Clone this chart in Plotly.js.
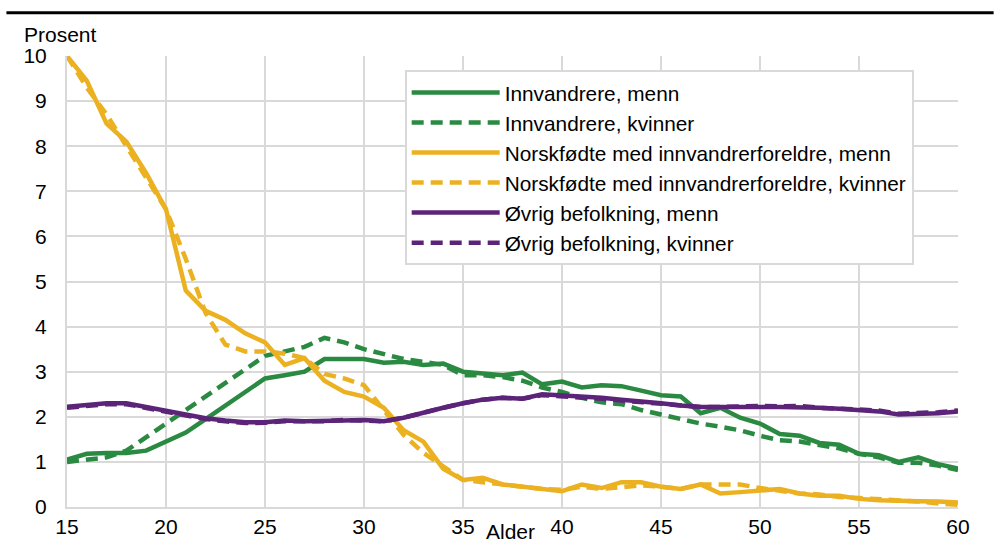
<!DOCTYPE html>
<html>
<head>
<meta charset="utf-8">
<script src="https://cdn.plot.ly/plotly-3.0.1.min.js"></script>
<style>html,body{margin:0;padding:0;background:#fff;}#chart{width:995px;height:543px;}</style>
</head>
<body>
<div id="chart"></div>
<script>
const ages = [];
for (let a = 15; a <= 60; a++) ages.push(a);

const innvMenn = [1.05,1.18,1.2,1.2,1.25,1.45,1.65,1.95,2.25,2.55,2.85,2.92,3.0,3.28,3.27,3.28,3.2,3.22,3.15,3.18,3.0,2.97,2.92,2.98,2.72,2.78,2.65,2.7,2.68,2.58,2.48,2.45,2.08,2.2,1.98,1.85,1.62,1.58,1.42,1.38,1.18,1.15,1.0,1.1,0.95,0.85];
const innvKvinner = [1.0,1.05,1.1,1.25,1.55,1.85,2.15,2.45,2.75,3.05,3.35,3.45,3.55,3.75,3.65,3.5,3.38,3.28,3.22,3.15,2.92,2.92,2.88,2.8,2.65,2.55,2.42,2.32,2.28,2.15,2.05,1.95,1.85,1.78,1.7,1.58,1.48,1.45,1.38,1.3,1.18,1.1,0.98,0.98,0.92,0.82];
const norskMenn = [10.0,9.45,8.5,8.1,7.4,6.6,4.8,4.35,4.15,3.85,3.65,3.15,3.3,2.8,2.55,2.45,2.2,1.7,1.45,0.85,0.6,0.65,0.5,0.45,0.4,0.35,0.5,0.42,0.55,0.55,0.45,0.4,0.5,0.3,0.33,0.37,0.4,0.3,0.25,0.25,0.18,0.15,0.15,0.13,0.12,0.1];
const norskKvinner = [10.0,9.3,8.7,8.0,7.3,6.6,5.5,4.3,3.6,3.45,3.45,3.4,3.3,2.95,2.85,2.7,2.15,1.6,1.2,0.9,0.6,0.55,0.5,0.45,0.4,0.38,0.45,0.4,0.45,0.48,0.45,0.4,0.5,0.5,0.5,0.42,0.35,0.3,0.28,0.22,0.2,0.18,0.15,0.12,0.08,0.05];
const ovrigMenn = [2.22,2.27,2.3,2.3,2.22,2.15,2.05,1.97,1.92,1.88,1.88,1.92,1.9,1.92,1.92,1.93,1.9,1.98,2.1,2.2,2.3,2.38,2.42,2.4,2.5,2.48,2.45,2.42,2.38,2.35,2.3,2.25,2.22,2.22,2.23,2.22,2.22,2.22,2.2,2.18,2.15,2.12,2.05,2.06,2.08,2.12];
const ovrigKvinner = [2.2,2.25,2.28,2.28,2.2,2.12,2.02,1.95,1.9,1.86,1.87,1.9,1.9,1.9,1.93,1.92,1.9,1.98,2.1,2.2,2.3,2.38,2.42,2.4,2.48,2.46,2.43,2.4,2.36,2.32,2.28,2.24,2.22,2.22,2.24,2.24,2.23,2.24,2.2,2.18,2.16,2.14,2.07,2.08,2.1,2.14];

const seriesNames = ["Innvandrere, menn","Innvandrere, kvinner","Norskfødte med innvandrerforeldre, menn","Norskfødte med innvandrerforeldre, kvinner","Øvrig befolkning, menn","Øvrig befolkning, kvinner"];
const seriesData = [innvMenn, innvKvinner, norskMenn, norskKvinner, ovrigMenn, ovrigKvinner];
const colors = ["#2a8a42","#2a8a42","#ebb120","#ebb120","#5c2479","#5c2479"];
const dashes = ["solid","12px,7px","solid","12px,7px","solid","12px,7px"];

const traces = seriesData.map((d,i)=>({
  x: ages, y: d, type:"scatter", mode:"lines", name: seriesNames[i],
  line:{color:colors[i], width:4.5, dash:dashes[i]}
}));

const layout = {
  width:995, height:543,
  margin:{l:67, r:37, t:56, b:36},
  paper_bgcolor:"#fff", plot_bgcolor:"#fff",
  font:{family:"Liberation Sans, Arial, sans-serif", size:21, color:"#000"},
  xaxis:{range:[15,60], tickvals:[15,20,25,30,35,40,45,50,55,60], showgrid:true, gridcolor:"#d9d9d9", gridwidth:2,
    zeroline:false, showline:true, linecolor:"#d9d9d9", linewidth:2, ticks:"", tickfont:{size:21}, ticklabelstandoff:0},
  yaxis:{range:[0,10], dtick:1, showgrid:true, gridcolor:"#d9d9d9", gridwidth:2, zeroline:false,
    showline:true, linecolor:"#d9d9d9", linewidth:2, ticks:"", tickfont:{size:21}, ticklabelstandoff:14},
  legend:{x:0.379, y:0.968, xanchor:"left", yanchor:"top", bgcolor:"#fff", bordercolor:"#d9d9d9", borderwidth:2,
    font:{size:20.8}, tracegroupgap:0, itemwidth:88},
  showlegend:true,
  shapes:[{type:"line", xref:"paper", yref:"paper", x0:-0.068, x1:1.04, y0:1.096, y1:1.096, line:{color:"#000", width:3}}],
  annotations:[
    {text:"Prosent", xref:"paper", yref:"paper", x:-0.051, y:1.018, xanchor:"left", yanchor:"bottom", showarrow:false, font:{size:21}},
    {text:"Alder", xref:"x", yref:"paper", x:37.4, y:-0.025, xanchor:"center", yanchor:"top", showarrow:false, font:{size:21}}
  ]
};

Plotly.newPlot("chart", traces, layout, {displayModeBar:false, staticPlot:true});
</script>
</body>
</html>
